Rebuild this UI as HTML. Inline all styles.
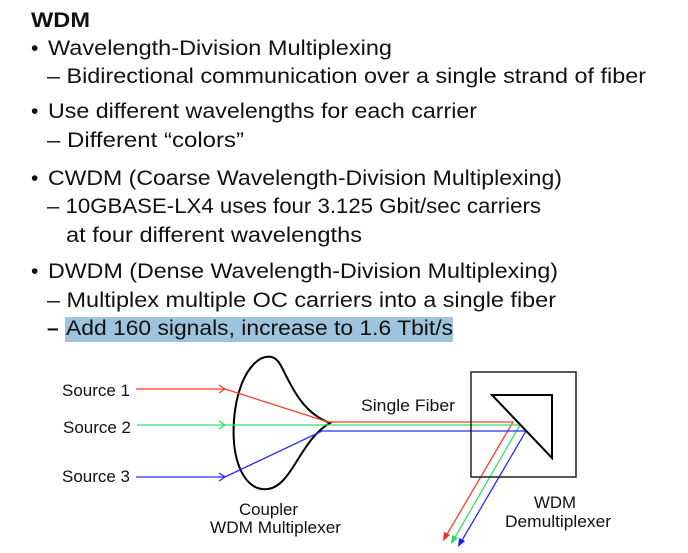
<!DOCTYPE html>
<html><head><meta charset="utf-8"><style>
html,body{margin:0;padding:0;background:#fff;}
svg{display:block;}
.t{font-family:"Liberation Sans",sans-serif;font-size:21px;fill:#111;}
.d{font-family:"Liberation Sans",sans-serif;font-size:17px;fill:#111;}
</style></head><body>
<svg width="688" height="553" viewBox="0 0 688 553" xmlns="http://www.w3.org/2000/svg">
<rect x="65" y="317" width="388" height="25" fill="#9ec3dc"/>
<text class="t" x="31" y="27" font-weight="bold" textLength="59" lengthAdjust="spacingAndGlyphs">WDM</text>
<text class="t" x="31" y="55">•</text>
<text class="t" x="48" y="55" textLength="344" lengthAdjust="spacingAndGlyphs">Wavelength-Division Multiplexing</text>
<text class="t" x="47" y="83" textLength="599" lengthAdjust="spacingAndGlyphs">– Bidirectional communication over a single strand of fiber</text>
<text class="t" x="31" y="118">•</text>
<text class="t" x="48" y="118" textLength="429" lengthAdjust="spacingAndGlyphs">Use different wavelengths for each carrier</text>
<text class="t" x="47" y="147" textLength="197" lengthAdjust="spacingAndGlyphs">– Different “colors”</text>
<text class="t" x="31" y="185">•</text>
<text class="t" x="48" y="185" textLength="514" lengthAdjust="spacingAndGlyphs">CWDM (Coarse Wavelength-Division Multiplexing)</text>
<text class="t" x="47" y="213" textLength="494" lengthAdjust="spacingAndGlyphs">– 10GBASE-LX4 uses four 3.125 Gbit/sec carriers</text>
<text class="t" x="66" y="242" textLength="296" lengthAdjust="spacingAndGlyphs">at four different wavelengths</text>
<text class="t" x="31" y="278">•</text>
<text class="t" x="48" y="278" textLength="510" lengthAdjust="spacingAndGlyphs">DWDM (Dense Wavelength-Division Multiplexing)</text>
<text class="t" x="47" y="307" textLength="509" lengthAdjust="spacingAndGlyphs">– Multiplex multiple OC carriers into a single fiber</text>
<text class="t" x="47" y="335" font-weight="bold">–</text>
<text class="t" x="66" y="335" textLength="387" lengthAdjust="spacingAndGlyphs">Add 160 signals, increase to 1.6 Tbit/s</text>

<path d="M330,423 C300,412 290,382 280,364 C268,344 238,365 234,420 C231,462 245,492 268,489 C292,486 300,440 330,423 Z" fill="none" stroke="#000" stroke-width="2"/>
<g fill="none" stroke-width="1.3">
<path d="M136,389 H225 L328,422 H513 L446,536" stroke="#ff3b2a"/>
<path d="M137,425 H520 L454,539" stroke="#33e06a"/>
<path d="M136,477 H225 L322,431 H526 L461,542" stroke="#2a2aff"/>
<path d="M219,385 L225,389 L219,393" stroke="#ff3b2a"/>
<path d="M219,421 L225,425 L219,429" stroke="#33e06a"/>
<path d="M219,473 L225,477 L219,481" stroke="#2a2aff"/>
</g>
<polygon points="443,541 444,532 450,535" fill="#ff2a1a"/>
<polygon points="451,544 452,535 458,538" fill="#22dd55"/>
<polygon points="458,547 459,538 465,541" fill="#1a1aff"/>
<rect x="471" y="372" width="105" height="105" fill="none" stroke="#222" stroke-width="1.5"/>
<path d="M492,395 H552 V458 Z" fill="none" stroke="#000" stroke-width="2"/>
<text class="d" x="62" y="396" textLength="68" lengthAdjust="spacingAndGlyphs">Source 1</text>
<text class="d" x="63" y="433" textLength="68" lengthAdjust="spacingAndGlyphs">Source 2</text>
<text class="d" x="62" y="482" textLength="68" lengthAdjust="spacingAndGlyphs">Source 3</text>
<text class="d" x="361" y="411" textLength="94" lengthAdjust="spacingAndGlyphs">Single Fiber</text>
<text class="d" x="239" y="515" textLength="59" lengthAdjust="spacingAndGlyphs">Coupler</text>
<text class="d" x="210" y="533" textLength="131" lengthAdjust="spacingAndGlyphs">WDM Multiplexer</text>
<text class="d" x="534" y="508" textLength="42" lengthAdjust="spacingAndGlyphs">WDM</text>
<text class="d" x="505" y="527" textLength="106" lengthAdjust="spacingAndGlyphs">Demultiplexer</text>
</svg>
</body></html>
